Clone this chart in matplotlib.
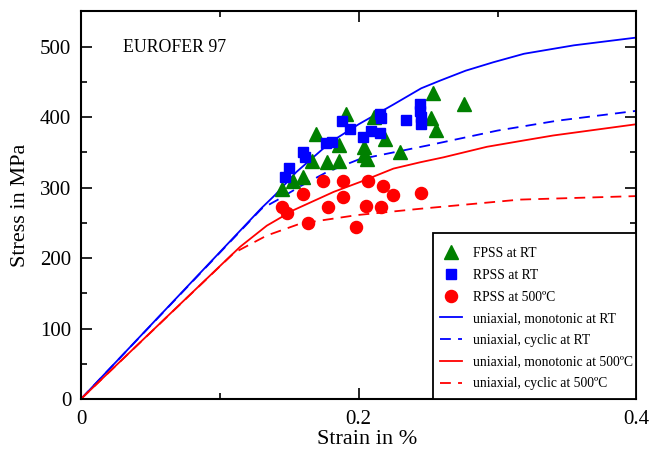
import matplotlib
matplotlib.use('Agg')
import matplotlib.pyplot as plt
from matplotlib.ticker import MultipleLocator, FixedLocator
from matplotlib.lines import Line2D
from matplotlib.patches import Rectangle

plt.rcParams['font.family'] = ['Liberation Serif', 'DejaVu Serif']

# scatter data (strain in %, stress in MPa)
fpss_rt_x = [0.1446, 0.153, 0.160, 0.166, 0.169, 0.177, 0.186, 0.186, 0.191, 0.2035,
             0.2035, 0.206, 0.211, 0.219, 0.230, 0.2535, 0.252, 0.2556, 0.276]
fpss_rt_y = [298, 310, 315, 338, 376, 336, 338, 361, 405, 357,
             346, 341, 400, 369, 350, 434, 399, 382, 418]

rpss_rt_x = [0.147, 0.150, 0.160, 0.1615, 0.1764, 0.1807, 0.188, 0.1935, 0.203, 0.209,
             0.215, 0.215, 0.216, 0.234, 0.244, 0.244, 0.245, 0.2445]
rpss_rt_y = [315, 328, 350, 343, 363, 365, 394, 383, 372, 381,
             377, 405, 399, 396, 419, 409, 391, 400]

rpss_500_x = [0.1446, 0.1487, 0.160, 0.1634, 0.174, 0.1778, 0.1886, 0.189, 0.198, 0.2054,
              0.207, 0.216, 0.2174, 0.225, 0.245]
rpss_500_y = [272, 264, 291, 250, 309, 272, 310, 287, 244, 274,
              310, 272, 303, 289, 292]

# uniaxial curves
mono_rt_x = [0, 0.13, 0.14, 0.155, 0.18, 0.2, 0.225, 0.245, 0.2587, 0.277, 0.297, 0.319, 0.355, 0.4]
mono_rt_y = [0, 271, 290, 322, 365, 390, 418, 441, 452, 466, 478, 490, 502, 513]

cyc_rt_x = [0, 0.13, 0.141, 0.158, 0.177, 0.2, 0.25, 0.3, 0.343, 0.4]
cyc_rt_y = [0, 270, 282, 302, 322, 340, 360, 381, 395, 409]

mono_500_x = [0, 0.105, 0.1146, 0.1338, 0.153, 0.182, 0.201, 0.225, 0.2443, 0.261,
              0.2924, 0.319, 0.34, 0.4]
mono_500_y = [0, 198, 216, 246, 268, 294, 308, 327, 336, 343, 358, 367, 374, 390]

cyc_500_x = [0, 0.11, 0.1146, 0.1338, 0.158, 0.1987, 0.2443, 0.316, 0.4]
cyc_500_y = [0, 207, 212, 232, 249, 261, 270, 283, 288]

fig = plt.figure(figsize=(6.52, 4.49), dpi=100)
ax = fig.add_axes([0.1242, 0.1114, 0.852, 0.863])

lw = 1.3
dash = (0, (6, 4))
ax.plot(mono_rt_x, mono_rt_y, color='blue', lw=lw, zorder=2)
ax.plot(cyc_rt_x, cyc_rt_y, color='blue', lw=lw, ls=dash, zorder=2)
ax.plot(mono_500_x, mono_500_y, color='red', lw=lw, zorder=2)
ax.plot(cyc_500_x, cyc_500_y, color='red', lw=lw, ls=dash, zorder=2)

ax.plot(fpss_rt_x, fpss_rt_y, ls='none', marker='^', ms=9.5, color='green', zorder=3)
ax.plot(rpss_rt_x, rpss_rt_y, ls='none', marker='s', ms=7.3, color='blue', zorder=3)
ax.plot(rpss_500_x, rpss_500_y, ls='none', marker='o', ms=8.7, color='red', zorder=3)

ax.set_xlim(0, 0.4)
ax.set_ylim(0, 550)
ax.xaxis.set_major_locator(FixedLocator([0, 0.2, 0.4]))
ax.set_xticklabels(['0', '0.2', '0.4'])
ax.xaxis.set_minor_locator(MultipleLocator(0.1))
ax.yaxis.set_major_locator(MultipleLocator(100))
ax.yaxis.set_minor_locator(MultipleLocator(50))
ax.tick_params(which='both', direction='in', top=True, right=True, width=1.2, labelsize=15)
ax.tick_params(which='major', length=8)
ax.tick_params(which='minor', length=4)
ax.tick_params(axis='x', which='major', pad=8)
ax.tick_params(axis='y', which='major', pad=7)
for s in ax.spines.values():
    s.set_linewidth(1.5)

ax.set_xlabel('Strain in %', fontsize=16)
ax.xaxis.set_label_coords(0.515, -0.079)
ax.set_ylabel('Stress in MPa', fontsize=16, labelpad=7)

ax.text(0.076, 0.906, 'EUROFER 97', transform=ax.transAxes, fontsize=12.8, va='center')

# legend box (drawn separately so the padding matches)
ax.add_patch(Rectangle((0.6337, 0), 0.3663, 0.4284, transform=ax.transAxes,
                       facecolor='white', edgecolor='black', lw=1.3, zorder=4))

handles = [
    Line2D([], [], ls='none', marker='^', ms=9.5, color='green'),
    Line2D([], [], ls='none', marker='s', ms=7.3, color='blue'),
    Line2D([], [], ls='none', marker='o', ms=8.7, color='red'),
    Line2D([], [], color='blue', lw=lw),
    Line2D([], [], color='blue', lw=lw, ls=dash),
    Line2D([], [], color='red', lw=lw),
    Line2D([], [], color='red', lw=lw, ls=dash),
]
labels = ['FPSS at RT', 'RPSS at RT', 'RPSS at 500ºC',
          'uniaxial, monotonic at RT', 'uniaxial, cyclic at RT',
          'uniaxial, monotonic at 500ºC', 'uniaxial, cyclic at 500ºC']
leg = ax.legend(handles, labels, loc='upper left', bbox_to_anchor=(0.6463, 0.392),
                borderaxespad=0, borderpad=0, fontsize=9.8, frameon=False,
                handlelength=1.6, handletextpad=0.8, labelspacing=0.64)
leg.set_zorder(5)

fig.savefig('out.png', dpi=100)
